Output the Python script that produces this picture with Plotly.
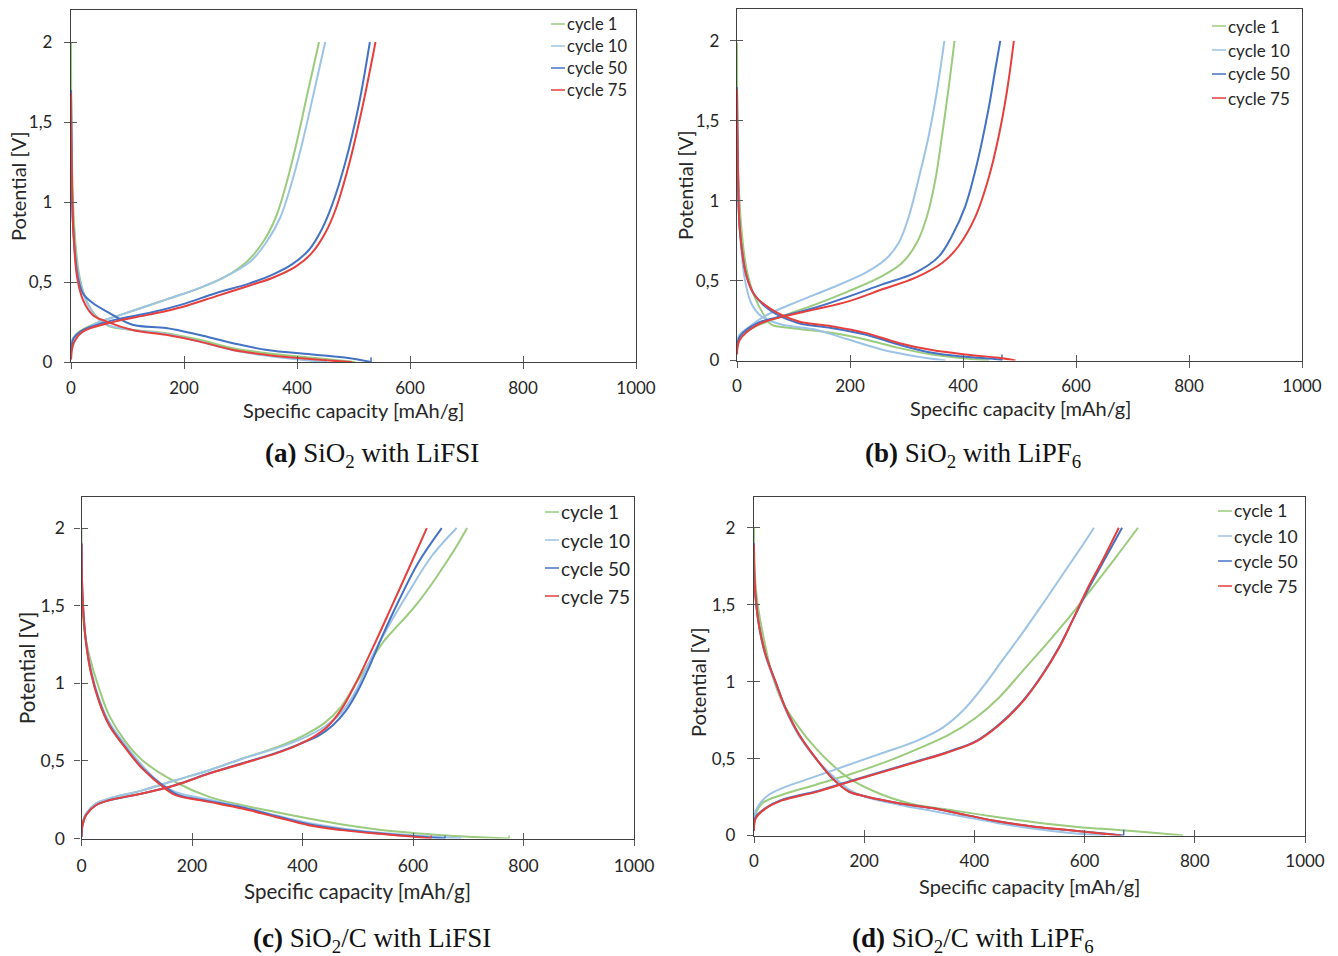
import plotly.graph_objects as go

# ---------------- data ----------------
CYCLE_NAMES = ["cycle 1", "cycle 10", "cycle 50", "cycle 75"]
X_TICKS = [0, 200, 400, 600, 800, 1000]
X_TICK_TEXT = ["0", "200", "400", "600", "800", "1000"]
Y_TICKS = [0, 0.5, 1, 1.5, 2]
Y_TICK_TEXT = ["0", "0,5", "1", "1,5", "2"]
X_TITLE = "Specific capacity [mAh/g]"
Y_TITLE = "Potential [V]"
CAPTIONS = [
    "<b>(a)</b> SiO<sub>2</sub> with LiFSI",
    "<b>(b)</b> SiO<sub>2</sub> with LiPF<sub>6</sub>",
    "<b>(c)</b> SiO<sub>2</sub>/C with LiFSI",
    "<b>(d)</b> SiO<sub>2</sub>/C with LiPF<sub>6</sub>",
]

# ---- panel (a): SiO2 with LiFSI ----
A1_DIS_Q = [0, 0.3, 1.0, 2, 6, 15, 29, 50, 68, 109, 168, 226, 285, 344, 432, 503]
A1_DIS_V = [2.0, 1.65, 1.4, 1.2, 0.83, 0.535, 0.37, 0.265, 0.223, 0.2, 0.18, 0.14, 0.088, 0.056, 0.025, 0]
A1_CHG_Q = [0, 4, 15, 50, 80, 168, 226, 274, 312, 340, 362, 380, 398, 418, 439]
A1_CHG_V = [0.077, 0.15, 0.19, 0.25, 0.285, 0.39, 0.46, 0.535, 0.63, 0.75, 0.9, 1.1, 1.35, 1.67, 2.0]
A2_DIS_Q = [0, 0.3, 1.2, 4, 14, 27, 45, 65, 109, 168, 226, 285, 344, 403, 453]
A2_DIS_V = [1.7, 1.5, 1.24, 0.83, 0.535, 0.38, 0.28, 0.23, 0.2, 0.175, 0.13, 0.075, 0.04, 0.015, 0]
A2_CHG_Q = [0, 4, 15, 50, 80, 168, 226, 274, 318, 346, 370, 389, 408, 429, 450]
A2_CHG_V = [0.088, 0.15, 0.18, 0.25, 0.285, 0.39, 0.46, 0.535, 0.63, 0.75, 0.9, 1.1, 1.35, 1.67, 2.0]
A3_DIS_Q = [0, 0.4, 1.2, 4, 12, 21, 38, 68, 109, 168, 226, 285, 344, 432, 491, 531]
A3_DIS_V = [1.7, 1.5, 1.24, 0.83, 0.535, 0.43, 0.37, 0.306, 0.233, 0.2125, 0.17, 0.119, 0.077, 0.046, 0.025, 0]
A3_CHG_Q = [0, 5, 21, 79, 138, 197, 256, 315, 356, 391, 421, 444, 462, 485, 509, 529]
A3_CHG_V = [0.067, 0.15, 0.2, 0.265, 0.306, 0.36, 0.43, 0.49, 0.545, 0.61, 0.70, 0.83, 0.98, 1.24, 1.6, 2.0]
A4_DIS_Q = [0, 0.4, 1.2, 4, 10.6, 21, 38, 62, 109, 168, 226, 285, 344, 403, 462, 497]
A4_DIS_V = [1.68, 1.5, 1.24, 0.83, 0.535, 0.39, 0.296, 0.254, 0.2, 0.17, 0.129, 0.077, 0.046, 0.025, 0.008, 0]
A4_CHG_Q = [0, 5, 21, 79, 138, 197, 256, 315, 356, 397, 426, 450, 468, 491, 515, 539]
A4_CHG_V = [0.015, 0.12, 0.19, 0.254, 0.296, 0.344, 0.41, 0.477, 0.525, 0.594, 0.68, 0.806, 0.95, 1.22, 1.58, 2.0]
A_END_TICKS = [None, None, 0.03, None]

# ---- panel (b): SiO2 with LiPF6 ----
B1_DIS_Q = [0, 0.3, 1.5, 8, 17, 31, 49, 61, 96, 167, 227, 286, 345, 404, 446]
B1_DIS_V = [1.99, 1.6, 1.235, 0.82, 0.57, 0.4, 0.277, 0.225, 0.204, 0.173, 0.131, 0.079, 0.0375, 0.0125, 0]
B1_CHG_Q = [0, 5, 25, 79, 138, 197, 256, 292, 318, 336, 351, 363, 374, 385]
B1_CHG_V = [0.08, 0.15, 0.2, 0.277, 0.35, 0.433, 0.527, 0.61, 0.735, 0.9, 1.13, 1.41, 1.69, 2.0]
B2_DIS_Q = [0, 0.4, 1.5, 5, 14, 25, 43, 79, 138, 197, 256, 315, 369]
B2_DIS_V = [1.7, 1.5, 1.235, 0.82, 0.506, 0.36, 0.277, 0.225, 0.194, 0.131, 0.069, 0.027, 0]
B2_CHG_Q = [0, 4, 14, 49, 108, 167, 227, 262, 286, 304, 321, 339, 354, 367]
B2_CHG_V = [0.11, 0.16, 0.19, 0.277, 0.37, 0.454, 0.548, 0.63, 0.735, 0.9, 1.13, 1.4, 1.69, 2.0]
B3_DIS_Q = [0, 0.4, 1.5, 5, 17, 31, 61, 108, 167, 227, 286, 345, 404, 463, 469]
B3_DIS_V = [1.71, 1.5, 1.235, 0.82, 0.527, 0.41, 0.308, 0.235, 0.204, 0.1625, 0.1, 0.048, 0.023, 0.006, 0]
B3_CHG_Q = [0, 5, 37, 79, 138, 197, 256, 315, 357, 380, 404, 425, 446, 457, 466]
B3_CHG_V = [0.058, 0.15, 0.235, 0.277, 0.33, 0.40, 0.475, 0.548, 0.65, 0.777, 0.965, 1.235, 1.59, 1.82, 2.0]
B4_DIS_Q = [0, 0.4, 1.5, 5, 17, 31, 61, 108, 167, 227, 286, 345, 404, 463, 493]
B4_DIS_V = [1.70, 1.5, 1.235, 0.82, 0.527, 0.41, 0.32, 0.246, 0.215, 0.173, 0.11, 0.065, 0.0375, 0.0167, 0]
B4_CHG_Q = [0, 5, 37, 79, 138, 197, 256, 315, 363, 392, 422, 446, 463, 478, 490]
B4_CHG_V = [0.0375, 0.13, 0.225, 0.273, 0.32, 0.37, 0.444, 0.517, 0.61, 0.715, 0.9, 1.15, 1.4, 1.69, 2.0]
B_END_TICKS = [None, None, 0.0375, None]

# ---- panel (c): SiO2/C with LiFSI ----
C1_DIS_Q = [0, 1, 5, 14, 32, 50, 80, 110, 170, 231, 291, 351, 411, 472, 532, 592, 652, 710, 774]
C1_DIS_V = [2.0, 1.6, 1.35, 1.18, 0.965, 0.793, 0.622, 0.504, 0.364, 0.268, 0.214, 0.171, 0.129, 0.09, 0.06, 0.0386, 0.021, 0.01, 0]
C1_CHG_Q = [0, 2, 8, 26, 50, 110, 170, 231, 291, 351, 400, 440, 470, 495, 526, 547, 568, 590, 610, 630, 652, 675, 698]
C1_CHG_V = [0.01, 0.1, 0.16, 0.225, 0.257, 0.31, 0.375, 0.44, 0.514, 0.585, 0.66, 0.745, 0.85, 0.99, 1.16, 1.27, 1.355, 1.44, 1.525, 1.62, 1.735, 1.86, 2.0]
C2_DIS_Q = [0, 2, 8, 17, 32, 50, 80, 110, 140, 170, 231, 291, 351, 411, 472, 532, 592, 686]
C2_DIS_V = [1.9, 1.56, 1.28, 1.09, 0.9, 0.75, 0.6, 0.47, 0.364, 0.3, 0.25, 0.205, 0.15, 0.1, 0.065, 0.04, 0.022, 0]
C2_CHG_Q = [0, 2, 8, 26, 50, 110, 170, 231, 291, 351, 400, 440, 470, 495, 520, 556, 592, 634, 679]
C2_CHG_V = [0.01, 0.1, 0.16, 0.225, 0.257, 0.31, 0.375, 0.44, 0.514, 0.579, 0.645, 0.72, 0.81, 0.94, 1.13, 1.37, 1.586, 1.82, 2.0]
C3_DIS_Q = [0, 2, 8, 17, 32, 50, 80, 110, 152, 175, 231, 291, 351, 411, 472, 532, 592, 658]
C3_DIS_V = [1.9, 1.55, 1.27, 1.075, 0.885, 0.735, 0.585, 0.455, 0.33, 0.28, 0.24, 0.2, 0.145, 0.092, 0.058, 0.035, 0.017, 0]
C3_CHG_Q = [0, 2, 8, 26, 50, 110, 170, 231, 291, 351, 395, 430, 455, 478, 500, 520, 544, 574, 610, 652]
C3_CHG_V = [0.01, 0.09, 0.15, 0.214, 0.246, 0.29, 0.345, 0.42, 0.485, 0.55, 0.61, 0.665, 0.73, 0.82, 0.95, 1.1, 1.3, 1.53, 1.78, 2.0]
C4_DIS_Q = [0, 2, 8, 17, 32, 50, 80, 110, 152, 170, 231, 291, 351, 411, 472, 532, 592, 633]
C4_DIS_V = [1.9, 1.54, 1.265, 1.07, 0.88, 0.73, 0.58, 0.45, 0.32, 0.279, 0.236, 0.193, 0.139, 0.086, 0.054, 0.032, 0.015, 0]
C4_CHG_Q = [0, 2, 8, 26, 50, 110, 170, 231, 291, 351, 390, 420, 445, 470, 495, 532, 562, 592, 625]
C4_CHG_V = [0.01, 0.09, 0.15, 0.214, 0.246, 0.29, 0.343, 0.418, 0.482, 0.547, 0.6, 0.655, 0.72, 0.83, 0.99, 1.265, 1.5, 1.736, 2.0]
C_END_TICKS = [0.02, 0.02, 0.02, 0.02]

# ---- panel (d): SiO2/C with LiPF6 ----
D1_DIS_Q = [0, 0.5, 3, 8, 15, 33, 51, 82, 112, 142, 172, 233, 293, 354, 414, 475, 535, 596, 656, 735, 779]
D1_DIS_V = [2.0, 1.8, 1.62, 1.47, 1.33, 1.045, 0.872, 0.7, 0.568, 0.46, 0.373, 0.265, 0.2, 0.167, 0.134, 0.102, 0.074, 0.052, 0.037, 0.015, 0]
D1_CHG_Q = [0, 3, 15, 51, 112, 172, 233, 293, 354, 402, 444, 487, 535, 571, 614, 656, 697]
D1_CHG_V = [0.06, 0.14, 0.21, 0.265, 0.33, 0.395, 0.47, 0.557, 0.655, 0.764, 0.894, 1.067, 1.262, 1.414, 1.61, 1.805, 2.0]
D2_DIS_Q = [0, 0.5, 3, 9, 21, 39, 57, 82, 112, 142, 172, 203, 263, 323, 384, 444, 505, 565, 637]
D2_DIS_V = [1.9, 1.7, 1.54, 1.36, 1.165, 0.99, 0.82, 0.645, 0.5, 0.39, 0.3, 0.25, 0.2, 0.16, 0.12, 0.08, 0.045, 0.02, 0]
D2_CHG_Q = [0, 3, 9, 27, 51, 112, 172, 233, 293, 342, 378, 414, 450, 487, 523, 559, 596, 617]
D2_CHG_V = [0.10, 0.16, 0.2, 0.265, 0.308, 0.384, 0.46, 0.536, 0.612, 0.70, 0.807, 0.959, 1.135, 1.315, 1.5, 1.69, 1.885, 2.0]
D3_DIS_Q = [0, 0.5, 3, 9, 21, 39, 57, 82, 112, 142, 172, 203, 263, 323, 384, 444, 505, 565, 626, 671]
D3_DIS_V = [1.9, 1.7, 1.545, 1.37, 1.176, 1.0, 0.83, 0.655, 0.503, 0.373, 0.286, 0.254, 0.21, 0.178, 0.134, 0.091, 0.059, 0.037, 0.017, 0]
D3_CHG_Q = [0, 3, 21, 51, 112, 172, 233, 293, 354, 402, 444, 487, 523, 553, 577, 608, 638, 668]
D3_CHG_V = [0.037, 0.12, 0.178, 0.232, 0.286, 0.351, 0.416, 0.48, 0.547, 0.612, 0.72, 0.872, 1.045, 1.22, 1.39, 1.61, 1.805, 2.0]
D4_DIS_Q = [0, 0.5, 3, 9, 21, 39, 57, 82, 112, 142, 172, 203, 263, 323, 384, 444, 505, 565, 626, 666]
D4_DIS_V = [1.89, 1.7, 1.545, 1.37, 1.176, 1.0, 0.83, 0.655, 0.503, 0.373, 0.286, 0.254, 0.21, 0.178, 0.134, 0.091, 0.059, 0.037, 0.015, 0]
D4_CHG_Q = [0, 3, 21, 51, 112, 172, 233, 293, 354, 402, 444, 487, 523, 553, 577, 606, 635, 662]
D4_CHG_V = [0.03, 0.11, 0.175, 0.228, 0.282, 0.347, 0.412, 0.476, 0.543, 0.608, 0.715, 0.867, 1.04, 1.215, 1.39, 1.61, 1.805, 2.0]
D_END_TICKS = [None, None, 0.037, None]

# ---------------- styling ----------------
COLORS = ["#9BCB7C", "#9DC3E6", "#4472C4", "#E5403D"]
TXT = "#262626"
FONT = "Lato"
W, H = 1338, 956

# panel frames in pixels: (left, right, top, bottom)
FRAMES = [(71, 636, 10, 362), (737, 1302, 9, 360.5), (81.5, 634, 497, 838.5), (754, 1305, 497, 835.5)]
# legend placement in pixels: (line_x0, top_y, spacing, font size)
LEGENDS = [(551, 24, 22, 16.5), (1212, 26, 24, 17), (545, 512, 28, 19), (1218, 511, 25, 17.5)]
CAPTION_POS = [(372, 455), (973, 455), (372, 940), (973, 940)]
XTITLE_POS = [(353, 410), (1020, 408), (358, 891), (1029, 886)]
YTITLE_POS = [(18, 186), (685, 185), (27, 668), (698, 682)]
TICK_SIZES = [17, 17, 17.5, 17]
TITLE_SIZES = [20, 20, 20.5, 20]
YLABEL_STANDOFF = [8, 7, 6, 8]
XLABEL_STANDOFF = [4, 4, 5, 4]

panels = [
    [(A1_DIS_Q, A1_DIS_V, A1_CHG_Q, A1_CHG_V), (A2_DIS_Q, A2_DIS_V, A2_CHG_Q, A2_CHG_V),
     (A3_DIS_Q, A3_DIS_V, A3_CHG_Q, A3_CHG_V), (A4_DIS_Q, A4_DIS_V, A4_CHG_Q, A4_CHG_V)],
    [(B1_DIS_Q, B1_DIS_V, B1_CHG_Q, B1_CHG_V), (B2_DIS_Q, B2_DIS_V, B2_CHG_Q, B2_CHG_V),
     (B3_DIS_Q, B3_DIS_V, B3_CHG_Q, B3_CHG_V), (B4_DIS_Q, B4_DIS_V, B4_CHG_Q, B4_CHG_V)],
    [(C1_DIS_Q, C1_DIS_V, C1_CHG_Q, C1_CHG_V), (C2_DIS_Q, C2_DIS_V, C2_CHG_Q, C2_CHG_V),
     (C3_DIS_Q, C3_DIS_V, C3_CHG_Q, C3_CHG_V), (C4_DIS_Q, C4_DIS_V, C4_CHG_Q, C4_CHG_V)],
    [(D1_DIS_Q, D1_DIS_V, D1_CHG_Q, D1_CHG_V), (D2_DIS_Q, D2_DIS_V, D2_CHG_Q, D2_CHG_V),
     (D3_DIS_Q, D3_DIS_V, D3_CHG_Q, D3_CHG_V), (D4_DIS_Q, D4_DIS_V, D4_CHG_Q, D4_CHG_V)],
]
end_ticks = [A_END_TICKS, B_END_TICKS, C_END_TICKS, D_END_TICKS]

fig = go.Figure()
layout = {}
annotations = []
shapes = []


def px2x(p):
    return p / W


def px2y(p):
    return 1 - p / H


for i, (series, ticks_end) in enumerate(zip(panels, end_ticks)):
    n = i + 1
    ov = i + 5
    xa, ya = f"x{n}", f"y{n}"
    l, r, t, b = FRAMES[i]
    dom_x = [px2x(l), px2x(r)]
    dom_y = [px2y(b), px2y(t)]
    for k, (dq, dv, cq, cv) in enumerate(series):
        line = dict(color=COLORS[k], width=2, shape="spline", smoothing=1.0)
        fig.add_trace(go.Scatter(x=dq, y=dv, mode="lines", line=line, name=CYCLE_NAMES[k],
                                 xaxis=xa, yaxis=ya, showlegend=False, cliponaxis=False))
        fig.add_trace(go.Scatter(x=cq, y=cv, mode="lines", line=line, name=CYCLE_NAMES[k],
                                 xaxis=xa, yaxis=ya, showlegend=False, cliponaxis=False))
        if ticks_end[k] is not None:
            fig.add_trace(go.Scatter(x=[dq[-1], dq[-1]], y=[dv[-1], ticks_end[k]], mode="lines",
                                     line=dict(color=COLORS[k], width=1.5), xaxis=xa, yaxis=ya,
                                     showlegend=False, hoverinfo="skip"))
    # empty trace for overlay subplot (inside half of the crossing ticks)
    fig.add_trace(go.Scatter(x=[], y=[], xaxis=f"x{ov}", yaxis=f"y{ov}", showlegend=False))

    common = dict(showgrid=False, zeroline=False, automargin=False)
    layout[f"xaxis{n}"] = dict(domain=dom_x, anchor=ya, range=[0, 1000], tickvals=X_TICKS,
                               ticktext=X_TICK_TEXT, ticks="outside", ticklen=6, tickcolor="#595959",
                               ticklabelstandoff=XLABEL_STANDOFF[i],
                               showline=True, linecolor="#404040", linewidth=1.3, mirror=True,
                               tickfont=dict(family=FONT, size=TICK_SIZES[i], color=TXT),
                               **common)
    layout[f"yaxis{n}"] = dict(domain=dom_y, anchor=xa, range=[0, 2.2], tickvals=Y_TICKS,
                               ticktext=Y_TICK_TEXT, ticks="outside", ticklen=6, tickcolor="#595959",
                               ticklabelstandoff=YLABEL_STANDOFF[i],
                               showline=True, linecolor="#404040", linewidth=1.3, mirror=True,
                               tickfont=dict(family=FONT, size=TICK_SIZES[i], color=TXT),
                               **common)
    layout[f"xaxis{ov}"] = dict(overlaying=xa, anchor=ya, range=[0, 1000], tickvals=X_TICKS,
                                ticks="inside", ticklen=6, tickcolor="#595959", showticklabels=False,
                                showline=False, **common)
    layout[f"yaxis{ov}"] = dict(overlaying=ya, anchor=xa, range=[0, 2.2], tickvals=Y_TICKS,
                                ticks="inside", ticklen=6, tickcolor="#595959", showticklabels=False,
                                showline=False, **common)

    # axis titles
    tx, ty = XTITLE_POS[i]
    annotations.append(dict(xref="paper", yref="paper", x=px2x(tx), y=px2y(ty), text=X_TITLE,
                            showarrow=False, xanchor="center", yanchor="middle",
                            font=dict(family=FONT, size=TITLE_SIZES[i], color=TXT)))
    tx, ty = YTITLE_POS[i]
    annotations.append(dict(xref="paper", yref="paper", x=px2x(tx), y=px2y(ty), text=Y_TITLE,
                            showarrow=False, xanchor="center", yanchor="middle", textangle=-90,
                            font=dict(family=FONT, size=TITLE_SIZES[i], color=TXT)))

    # manual legend (short line + label)
    lx, ly, sp, fs = LEGENDS[i]
    for k, name in enumerate(CYCLE_NAMES):
        yy = ly + k * sp
        shapes.append(dict(type="line", xref="paper", yref="paper", x0=px2x(lx), x1=px2x(lx + 14),
                           y0=px2y(yy), y1=px2y(yy), line=dict(color=COLORS[k], width=1.5)))
        annotations.append(dict(xref="paper", yref="paper", x=px2x(lx + 14), y=px2y(yy), text=name,
                                showarrow=False, xanchor="left", yanchor="middle",
                                font=dict(family=FONT, size=fs, color=TXT)))

    cx, cy = CAPTION_POS[i]
    annotations.append(dict(xref="paper", yref="paper", x=px2x(cx), y=px2y(cy), text=CAPTIONS[i],
                            showarrow=False, xanchor="center", yanchor="middle",
                            font=dict(family="Liberation Serif", size=27, color="#111111")))

fig.update_layout(
    width=W, height=H, margin=dict(l=0, r=0, t=0, b=0, autoexpand=False),
    paper_bgcolor="white", plot_bgcolor="white",
    showlegend=False, annotations=annotations, shapes=shapes,
    **layout,
)

fig.write_html("out.html")
